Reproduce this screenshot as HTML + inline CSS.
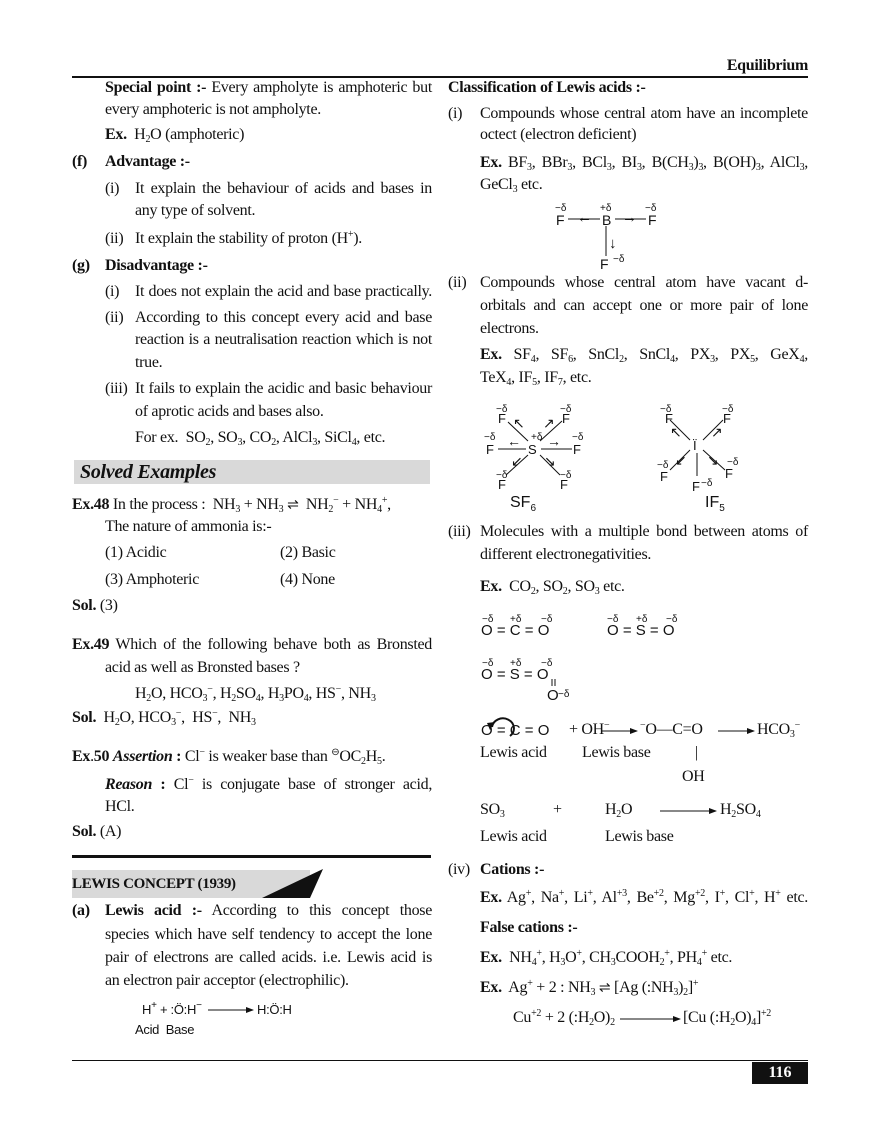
<!DOCTYPE html>
<html><head><meta charset="utf-8">
<style>
body{margin:0;background:#fff}
#p{position:relative;width:880px;height:1139px;overflow:hidden;font-family:"Liberation Serif",serif;font-size:16px;color:#111}
.l{position:absolute;white-space:nowrap;line-height:20px;letter-spacing:-0.3px}
.j{position:absolute;line-height:20px;text-align:justify;text-align-last:justify;white-space:nowrap;letter-spacing:-0.3px}
sub{font-size:10px;vertical-align:-3px;line-height:0}
sup{font-size:10px;vertical-align:6px;line-height:0}
b{font-weight:bold}
svg text{font-family:"Liberation Sans",sans-serif}
</style></head><body><div id="p">

<div class="l" style="right:72px;top:56px;font-weight:bold;font-size:16px">Equilibrium</div>
<div style="position:absolute;left:72px;top:76px;width:736px;height:2px;background:#111"></div>

<!-- LEFT COLUMN -->
<div class="j" style="left:105px;top:78px;width:327px"><b>Special point :-</b> Every ampholyte is amphoteric but</div>
<div class="l" style="left:105px;top:100px">every amphoteric is not ampholyte.</div>
<div class="l" style="left:105px;top:125px"><b>Ex.</b>&nbsp; H<sub>2</sub>O (amphoteric)</div>
<div class="l" style="left:72px;top:152px"><b>(f)</b></div>
<div class="l" style="left:105px;top:152px"><b>Advantage :-</b></div>
<div class="l" style="left:105px;top:179px">(i)</div>
<div class="j" style="left:135px;top:179px;width:297px">It explain the behaviour of acids and bases in</div>
<div class="l" style="left:135px;top:201px">any type of solvent.</div>
<div class="l" style="left:105px;top:229px">(ii)</div>
<div class="l" style="left:135px;top:229px">It explain the stability of proton (H<sup>+</sup>).</div>
<div class="l" style="left:72px;top:256px"><b>(g)</b></div>
<div class="l" style="left:105px;top:256px"><b>Disadvantage :-</b></div>
<div class="l" style="left:105px;top:282px">(i)</div>
<div class="j" style="left:135px;top:282px;width:297px">It does not explain the acid and base practically.</div>
<div class="l" style="left:105px;top:308px">(ii)</div>
<div class="j" style="left:135px;top:308px;width:297px">According to this concept every acid and base</div>
<div class="j" style="left:135px;top:330px;width:297px">reaction is a neutralisation reaction which is not</div>
<div class="l" style="left:135px;top:353px">true.</div>
<div class="l" style="left:105px;top:379px">(iii)</div>
<div class="j" style="left:135px;top:379px;width:297px">It fails to explain the acidic and basic behaviour</div>
<div class="l" style="left:135px;top:402px">of aprotic acids and bases also.</div>
<div class="l" style="left:135px;top:428px">For ex.&nbsp; SO<sub>2</sub>, SO<sub>3</sub>, CO<sub>2</sub>, AlCl<sub>3</sub>, SiCl<sub>4</sub>, etc.</div>

<div style="position:absolute;left:74px;top:460px;width:356px;height:24px;background:#d9d9d9"></div>
<div class="l" style="left:80px;top:460px;font-size:20px;line-height:24px;font-weight:bold;font-style:italic">Solved Examples</div>

<div class="l" style="left:72px;top:495px"><b>Ex.48</b> In the process :&nbsp; NH<sub>3</sub> + NH<sub>3</sub> <span style="font-size:14px">⇌</span> &nbsp;NH<sub>2</sub><sup>−</sup> + NH<sub>4</sub><sup>+</sup>,</div>
<div class="l" style="left:105px;top:517px">The nature of ammonia is:-</div>
<div class="l" style="left:105px;top:543px">(1) Acidic</div>
<div class="l" style="left:280px;top:543px">(2) Basic</div>
<div class="l" style="left:105px;top:570px">(3) Amphoteric</div>
<div class="l" style="left:280px;top:570px">(4) None</div>
<div class="l" style="left:72px;top:596px"><b>Sol.</b> (3)</div>

<div class="j" style="left:72px;top:635px;width:360px"><b>Ex.49</b> Which of the following behave both as Bronsted</div>
<div class="l" style="left:105px;top:658px">acid as well as Bronsted bases ?</div>
<div class="l" style="left:135px;top:684px">H<sub>2</sub>O, HCO<sub>3</sub><sup>−</sup>, H<sub>2</sub>SO<sub>4</sub>, H<sub>3</sub>PO<sub>4</sub>, HS<sup>−</sup>, NH<sub>3</sub></div>
<div class="l" style="left:72px;top:708px"><b>Sol.</b>&nbsp; H<sub>2</sub>O, HCO<sub>3</sub><sup>−</sup>,&nbsp; HS<sup>−</sup>,&nbsp; NH<sub>3</sub></div>

<div class="l" style="left:72px;top:747px"><b>Ex</b>.<b>50 <i>Assertion</i> :</b> Cl<sup>−</sup> is weaker base than <sup>⊖</sup>OC<sub>2</sub>H<sub>5</sub>.</div>
<div class="j" style="left:105px;top:775px;width:327px"><b><i>Reason</i> :</b> Cl<sup>−</sup> is conjugate base of stronger acid,</div>
<div class="l" style="left:105px;top:797px">HCl.</div>
<div class="l" style="left:72px;top:822px"><b>Sol.</b> (A)</div>

<div style="position:absolute;left:72px;top:855px;width:359px;height:3px;background:#111"></div>
<svg style="position:absolute;left:0;top:0" width="880" height="1139">
<rect x="72" y="870" width="238" height="28" fill="#d9d9d9"/>
<polygon points="262,898 323,869 310,898" fill="#111"/>
</svg>
<div class="l" style="left:72px;top:874px;font-weight:bold;font-size:15px">LEWIS CONCEPT (1939)</div>

<div class="l" style="left:72px;top:901px"><b>(a)</b></div>
<div class="j" style="left:105px;top:901px;width:327px"><b>Lewis acid :-</b> According to this concept those</div>
<div class="j" style="left:105px;top:925px;width:327px">species which have self tendency to accept the lone</div>
<div class="j" style="left:105px;top:948px;width:327px">pair of electrons are called acids. i.e. Lewis acid is</div>
<div class="l" style="left:105px;top:971px">an electron pair acceptor (electrophilic).</div>
<div class="l" style="left:142px;top:1000px;font-family:'Liberation Sans',sans-serif;font-size:13px">H<sup>+</sup> + :Ö:H<sup>−</sup></div>
<div class="l" style="left:257px;top:1000px;font-family:'Liberation Sans',sans-serif;font-size:13px">H:Ö:H</div>
<div class="l" style="left:135px;top:1020px;font-family:'Liberation Sans',sans-serif;font-size:13px">Acid&nbsp; Base</div>

<!-- RIGHT COLUMN -->
<div class="l" style="left:448px;top:78px"><b>Classification of Lewis acids :-</b></div>
<div class="l" style="left:448px;top:104px">(i)</div>
<div class="j" style="left:480px;top:104px;width:328px">Compounds whose central atom have an incomplete</div>
<div class="l" style="left:480px;top:125px">octect (electron deficient)</div>
<div class="j" style="left:480px;top:153px;width:328px"><b>Ex.</b> BF<sub>3</sub>, BBr<sub>3</sub>, BCl<sub>3</sub>, BI<sub>3</sub>, B(CH<sub>3</sub>)<sub>3</sub>, B(OH)<sub>3</sub>, AlCl<sub>3</sub>,</div>
<div class="l" style="left:480px;top:175px">GeCl<sub>3</sub> etc.</div>

<div class="l" style="left:448px;top:273px">(ii)</div>
<div class="j" style="left:480px;top:273px;width:328px">Compounds whose central atom have vacant d-</div>
<div class="j" style="left:480px;top:296px;width:328px">orbitals and can accept one or more pair of lone</div>
<div class="l" style="left:480px;top:319px">electrons.</div>
<div class="j" style="left:480px;top:345px;width:328px"><b>Ex.</b> SF<sub>4</sub>, SF<sub>6</sub>, SnCl<sub>2</sub>, SnCl<sub>4</sub>, PX<sub>3</sub>, PX<sub>5</sub>, GeX<sub>4</sub>,</div>
<div class="l" style="left:480px;top:368px">TeX<sub>4</sub>, IF<sub>5</sub>, IF<sub>7</sub>, etc.</div>

<div class="l" style="left:448px;top:522px">(iii)</div>
<div class="j" style="left:480px;top:522px;width:328px">Molecules with a multiple bond between atoms of</div>
<div class="l" style="left:480px;top:545px">different electronegativities.</div>
<div class="l" style="left:480px;top:577px"><b>Ex.</b>&nbsp; CO<sub>2</sub>, SO<sub>2</sub>, SO<sub>3</sub> etc.</div>

<div class="l" style="left:569px;top:720px">+ OH<sup>−</sup></div>
<div class="l" style="left:640px;top:720px"><sup>−</sup>O—C=O</div>
<div class="l" style="left:757px;top:720px">HCO<sub>3</sub><sup>−</sup></div>
<div class="l" style="left:480px;top:743px">Lewis acid</div>
<div class="l" style="left:582px;top:743px">Lewis base</div>
<div class="l" style="left:695px;top:743px">|</div>
<div class="l" style="left:682px;top:767px">OH</div>
<div class="l" style="left:480px;top:800px">SO<sub>3</sub></div>
<div class="l" style="left:553px;top:800px">+</div>
<div class="l" style="left:605px;top:800px">H<sub>2</sub>O</div>
<div class="l" style="left:720px;top:800px">H<sub>2</sub>SO<sub>4</sub></div>
<div class="l" style="left:480px;top:827px">Lewis acid</div>
<div class="l" style="left:605px;top:827px">Lewis base</div>

<div class="l" style="left:448px;top:860px">(iv)</div>
<div class="l" style="left:480px;top:860px"><b>Cations :-</b></div>
<div class="j" style="left:480px;top:888px;width:328px"><b>Ex.</b> Ag<sup>+</sup>, Na<sup>+</sup>, Li<sup>+</sup>, Al<sup>+3</sup>, Be<sup>+2</sup>, Mg<sup>+2</sup>, I<sup>+</sup>, Cl<sup>+</sup>, H<sup>+</sup> etc.</div>
<div class="l" style="left:480px;top:918px"><b>False cations :-</b></div>
<div class="l" style="left:480px;top:948px"><b>Ex.</b>&nbsp; NH<sub>4</sub><sup>+</sup>, H<sub>3</sub>O<sup>+</sup>, CH<sub>3</sub>COOH<sub>2</sub><sup>+</sup>, PH<sub>4</sub><sup>+</sup> etc.</div>
<div class="l" style="left:480px;top:978px"><b>Ex.</b>&nbsp; Ag<sup>+</sup> + 2 : NH<sub>3</sub> <span style="font-size:14px">⇌</span> [Ag (:NH<sub>3</sub>)<sub>2</sub>]<sup>+</sup></div>
<div class="l" style="left:513px;top:1008px">Cu<sup>+2</sup> + 2 (:H<sub>2</sub>O)<sub>2</sub></div>
<div class="l" style="left:683px;top:1008px">[Cu (:H<sub>2</sub>O)<sub>4</sub>]<sup>+2</sup></div>

<!-- diagrams -->
<svg style="position:absolute;left:0;top:0" width="880" height="1139" font-size="14" fill="#111">
<defs><marker id="ah" markerWidth="8" markerHeight="6" refX="7" refY="3" orient="auto"><path d="M0,0 L8,3 L0,6 z" fill="#111"/></marker></defs>
<g stroke="#111" stroke-width="1" fill="none">
 <line x1="602" y1="731" x2="637" y2="731" marker-end="url(#ah)"/>
 <line x1="718" y1="731" x2="754" y2="731" marker-end="url(#ah)"/>
 <line x1="660" y1="811" x2="716" y2="811" marker-end="url(#ah)"/>
 <line x1="620" y1="1019" x2="680" y2="1019" marker-end="url(#ah)"/>
 <line x1="208" y1="1010" x2="253" y2="1010" marker-end="url(#ah)"/>
 <line x1="568" y1="219" x2="600" y2="219"/><line x1="615" y1="219" x2="646" y2="219"/>
 <line x1="606" y1="226" x2="606" y2="256"/>
 <!-- SF6 -->
 <line x1="498" y1="449" x2="526" y2="449"/><line x1="541" y1="449" x2="572" y2="449"/>
 <line x1="508" y1="422" x2="528" y2="441"/><line x1="540" y1="441" x2="562" y2="421"/>
 <line x1="528" y1="455" x2="506" y2="475"/><line x1="540" y1="455" x2="560" y2="475"/>
 <!-- IF5 -->
 <line x1="670" y1="420" x2="690" y2="440"/><line x1="723" y1="420" x2="703" y2="440"/>
 <line x1="690" y1="450" x2="670" y2="470"/><line x1="703" y1="450" x2="725" y2="470"/>
 <line x1="697" y1="453" x2="697" y2="476"/>
 <line x1="552" y1="679" x2="552" y2="686"/><line x1="555" y1="679" x2="555" y2="686"/>
 <path d="M492 727 A11 10 0 1 1 510 736" stroke-width="2"/>
</g>
<polygon points="487,723 495,722 490,730" fill="#111"/>
<g font-size="14">
 <text x="556" y="225">F</text><text x="602" y="225">B</text><text x="648" y="225">F</text>
 <text x="600" y="269">F</text>
 <text x="577" y="222" font-size="15">←</text><text x="622" y="222" font-size="15">→</text>
 <text x="609" y="248" font-size="15">↓</text>
</g>
<g font-size="10">
 <text x="555" y="211">−δ</text><text x="600" y="211">+δ</text><text x="645" y="211">−δ</text>
 <text x="613" y="262">−δ</text>
</g>
<!-- SF6 labels -->
<g font-size="13">
 <text x="528" y="454">S</text>
 <text x="486" y="454">F</text><text x="573" y="454">F</text>
 <text x="498" y="423">F</text><text x="562" y="423">F</text>
 <text x="498" y="489">F</text><text x="560" y="489">F</text>
 <text x="507" y="446" font-size="14">←</text><text x="547" y="446" font-size="14">→</text>
 <text x="513" y="428" font-size="14">↖</text><text x="543" y="428" font-size="14">↗</text>
 <text x="511" y="466" font-size="14">↙</text><text x="544" y="466" font-size="14">↘</text>
 <text x="665" y="423">F</text><text x="723" y="423">F</text>
 <text x="693" y="450">Ï</text>
 <text x="660" y="481">F</text><text x="725" y="478">F</text><text x="692" y="491">F</text>
 <text x="670" y="437" font-size="14">↖</text><text x="711" y="437" font-size="14">↗</text>
 <text x="675" y="465" font-size="14">↙</text><text x="707" y="465" font-size="14">↘</text>
</g>
<g font-size="10">
 <text x="484" y="440">−δ</text><text x="572" y="440">−δ</text>
 <text x="496" y="412">−δ</text><text x="560" y="412">−δ</text>
 <text x="531" y="440">+δ</text>
 <text x="496" y="478">−δ</text><text x="560" y="478">−δ</text>
 <text x="660" y="412">−δ</text><text x="722" y="412">−δ</text>
 <text x="657" y="468">−δ</text><text x="727" y="465">−δ</text><text x="701" y="486">−δ</text>
</g>
<text x="510" y="507" font-family="Liberation Serif" font-size="16">SF<tspan font-size="10" dy="4">6</tspan></text>
<text x="705" y="507" font-family="Liberation Serif" font-size="16">IF<tspan font-size="10" dy="4">5</tspan></text>
<!-- CO2 etc -->
<g font-size="15">
 <text x="481" y="635">O = C = O</text>
 <text x="607" y="635">O = S = O</text>
 <text x="481" y="679">O = S = O</text>
 <text x="547" y="700">O</text>
 <text x="481" y="735">O = C = O</text>
</g>
<g font-size="10">
 <text x="482" y="622">−δ</text><text x="510" y="622">+δ</text><text x="541" y="622">−δ</text>
 <text x="607" y="622">−δ</text><text x="636" y="622">+δ</text><text x="666" y="622">−δ</text>
 <text x="482" y="666">−δ</text><text x="510" y="666">+δ</text><text x="541" y="666">−δ</text>
 <text x="558" y="697">−δ</text>
</g>
</svg>

<div style="position:absolute;left:72px;top:1060px;width:736px;height:1px;background:#111"></div>
<div style="position:absolute;left:752px;top:1062px;width:56px;height:22px;background:#111;color:#fff;font-weight:bold;font-size:16px;line-height:22px;text-align:center">116</div>
</div></body></html>
